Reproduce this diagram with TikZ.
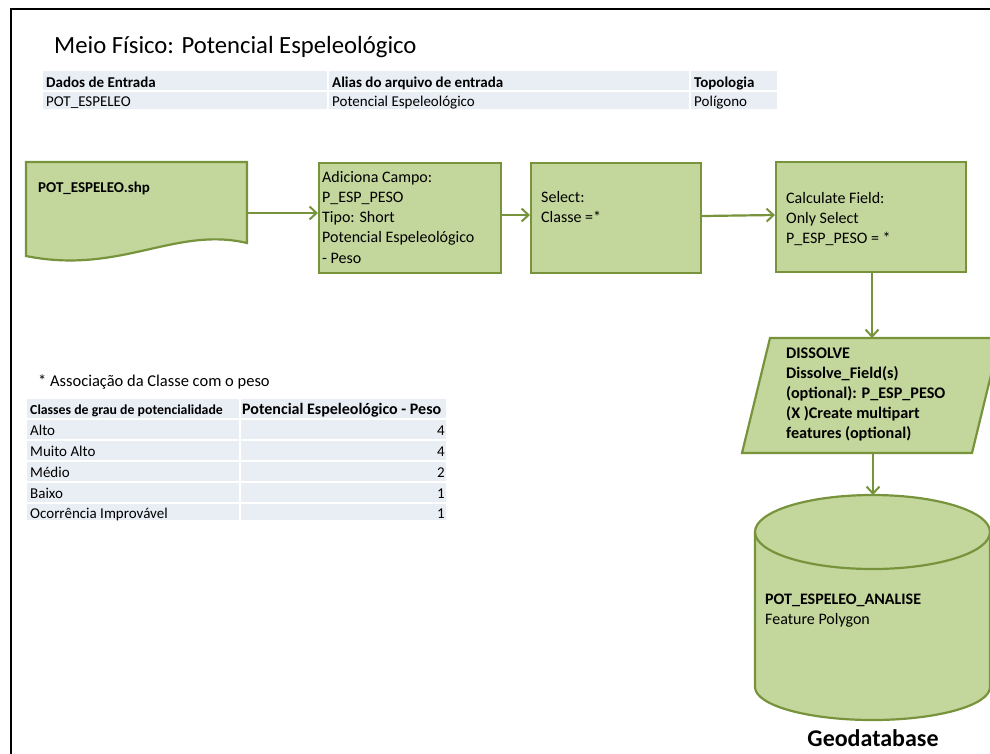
\documentclass[tikz,border=0pt]{standalone}
\usepackage{fontspec}
\setmainfont{Carlito}
\definecolor{gfill}{HTML}{C3D69B}
\definecolor{gline}{HTML}{77933C}
\definecolor{tbl}{HTML}{E9EDF4}
\tikzset{
  box/.style={draw=gline, line width=2.2pt, fill=gfill},
  flow/.style={draw=gline, line width=2.2pt, -{Straight Barb[length=7pt,width=13pt,line width=2pt]}},
  txt/.style={inner sep=0pt, anchor=north west, align=left, font=\fontsize{16}{20.2}\selectfont},
  btxt/.style={txt, font=\fontsize{16.2}{20}\selectfont\bfseries},
  cell/.style={fill=tbl, draw=white, line width=1.2pt},
  ttext/.style={inner sep=0pt, anchor=base west},
}
\usetikzlibrary{arrows.meta}
\begin{document}
\begin{tikzpicture}[x=1pt,y=1pt]
\useasboundingbox (0,0) rectangle (990,-753);
\fill[white] (0,0) rectangle (990,-753);
% frame
\draw[black, line width=2pt] (11,-800) -- (11,-9) -- (1010,-9);

% title
\node[ttext, font=\fontsize{24.7}{28}\selectfont] (title) at (54,-53) {Meio Físico: Potencial Espeleológico};

% top table
\path[cell] (42,-70) rectangle (328,-91);
\path[cell] (328,-70) rectangle (690,-91);
\path[cell] (690,-70) rectangle (778,-91);
\path[cell] (42,-91) rectangle (328,-110);
\path[cell] (328,-91) rectangle (690,-110);
\path[cell] (690,-91) rectangle (778,-110);
\node[ttext, font=\fontsize{15}{17}\selectfont\bfseries] (h1) at (46,-87) {Dados de Entrada};
\node[ttext, font=\fontsize{15}{17}\selectfont\bfseries] (h2) at (332,-87) {Alias do arquivo de entrada};
\node[ttext, font=\fontsize{15}{17}\selectfont\bfseries] (h3) at (694,-87) {Topologia};
\node[ttext, font=\fontsize{15}{17}\selectfont] (d1) at (46,-106) {POT\_ESPELEO};
\node[ttext, font=\fontsize{15}{17}\selectfont] (d2) at (332,-106) {Potencial Espeleológico};
\node[ttext, font=\fontsize{15}{17}\selectfont] (d3) at (694,-106) {Polígono};

% document shape
\path[box] (26,-162) -- (247,-162) -- (247,-243)
   .. controls (175,-226) and (120,-275) .. (26,-256) -- cycle;
\coordinate (docE) at (247,-213);
\node[ttext, font=\fontsize{15}{17}\selectfont\bfseries] (docT) at (38,-192) {POT\_ESPELEO.shp};

% Adiciona
\node[box, anchor=north west, minimum width=182pt, minimum height=110pt, inner sep=0pt] (add) at (318,-162) {};
\node[txt] (addT) at (322,-171) {Adiciona Campo:\\P\_ESP\_PESO\\Tipo: Short\\Potencial Espeleológico\\- Peso};

% Select
\node[box, anchor=north west, minimum width=170pt, minimum height=110pt, inner sep=0pt] (sel) at (530,-162) {};
\node[txt] (selT) at (541,-191) {Select:\\Classe =*};

% Calculate
\node[box, anchor=north west, minimum width=190pt, minimum height=110pt, inner sep=0pt] (calc) at (775,-161) {};
\node[txt] (calcT) at (786,-192) {Calculate Field:\\Only Select\\P\_ESP\_PESO = *};

% Dissolve parallelogram
\path[box] (770,-338) -- (1000,-338) -- (972,-453) -- (742,-453) -- cycle;
\coordinate (disN) at (872,-338);
\coordinate (disS) at (873,-453);
\node[btxt] (disT) at (786,-348) {DISSOLVE\\Dissolve\_Field(s)\\(optional): P\_ESP\_PESO\\(X )Create multipart\\features (optional)};

% Cylinder
\path[box] (755,-532) -- (755,-687) arc (180:360:117.5pt and 33pt) -- (990,-532) arc (0:180:117.5pt and 37pt) -- cycle;
\draw[draw=gline, line width=2.2pt] (755,-532) arc (180:360:117.5pt and 37pt);
\coordinate (cylN) at (873,-495);
\node[ttext, font=\fontsize{16}{20}\selectfont\bfseries] (cylT1) at (765,-604) {POT\_ESPELEO\_ANALISE};
\node[ttext, font=\fontsize{16}{20}\selectfont] (cylT2) at (765,-624) {Feature Polygon};
\node[ttext, anchor=base, font=\fontsize{24}{28}\selectfont\bfseries] (geo) at (873,-746) {Geodatabase};

% connectors
\draw[flow] (docE) -- (add.west |- docE);
\draw[flow] (add.east |- 0,-215) -- (sel.west |- 0,-215);
\draw[flow] (sel.east |- 0,-216) -- (calc.west |- 0,-215);
\draw[flow] (calc.south -| 872,0) -- (disN);
\draw[flow] (disS) -- (cylN);

% lower note and table
\node[ttext, font=\fontsize{16.5}{18}\selectfont] (note) at (38,-386) {* Associação da Classe com o peso};
\foreach \ya/\yb in {398/419,419/440,440/461,461/482,482/503,503/521}{
  \path[cell] (26,-\ya) rectangle (240,-\yb);
  \path[cell] (240,-\ya) rectangle (447,-\yb);
}
\node[ttext, font=\fontsize{13.8}{15}\selectfont\bfseries] (c1) at (30,-414) {Classes de grau de potencialidade};
\node[ttext, font=\fontsize{16}{17}\selectfont\bfseries] (c2) at (242,-414) {Potencial Espeleológico - Peso};
\foreach \n/\y/\t/\v in {r1/435/Alto/4, r2/456/Muito Alto/4, r3/477/Médio/2, r4/498/Baixo/1, r5/518/Ocorrência Improvável/1}{
  \node[ttext, font=\fontsize{15}{17}\selectfont] (\n a) at (30,-\y) {\t};
  \node[ttext, anchor=base east, font=\fontsize{15}{17}\selectfont] (\n b) at (445,-\y) {\v};
}
\end{tikzpicture}
\end{document}
